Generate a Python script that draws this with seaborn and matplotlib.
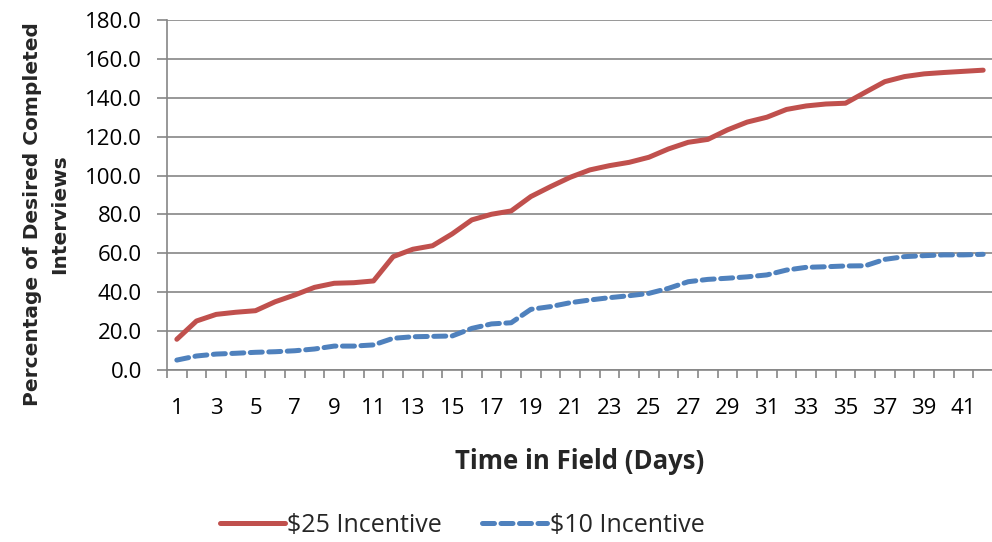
import numpy as np
import pandas as pd
import matplotlib
matplotlib.use('Agg')
import matplotlib.pyplot as plt
import matplotlib.ticker as ticker
import seaborn as sns

# values (percent of desired completes, by day)
days = list(range(1, 43))
inc_25 = [15.8, 25.2, 28.6, 29.7, 30.5, 35.1, 38.6, 42.5, 44.6, 44.9,
          45.8, 58.3, 62.1, 63.9, 70.0, 77.2, 80.1, 81.8, 89.2, 94.3,
          99.1, 102.9, 105.1, 106.8, 109.4, 113.7, 117.1, 118.6, 123.5, 127.5,
          130.0, 134.0, 135.8, 136.8, 137.2, 142.8, 148.3, 150.9, 152.3, 153.0,
          153.6, 154.2]
inc_10 = [5.1, 7.2, 8.2, 8.6, 9.1, 9.4, 9.9, 10.8, 12.3, 12.3,
          12.9, 16.3, 17.1, 17.3, 17.5, 21.4, 23.7, 24.3, 31.2, 32.6,
          34.6, 36.0, 37.2, 38.2, 39.4, 42.0, 45.4, 46.6, 47.2, 47.9,
          48.9, 51.4, 52.8, 53.1, 53.5, 53.6, 56.9, 58.3, 58.8, 59.2,
          59.2, 59.5]
series_names = ['$25 Incentive', '$10 Incentive']

df = pd.DataFrame({'day': days * 2,
                   'pct': inc_25 + inc_10,
                   'series': [series_names[0]] * len(days) + [series_names[1]] * len(days)})

sns.set_style('white')
plt.rcParams['font.family'] = ['Open Sans', 'DejaVu Sans']

fig, ax = plt.subplots(figsize=(9.92, 5.42), dpi=100)
fig.subplots_adjust(left=167 / 992, right=993 / 992, bottom=1 - 370 / 542, top=1 - 20 / 542)

g = sns.lineplot(data=df, x='day', y='pct', hue='series', style='series',
                 palette={series_names[0]: '#C0504D', series_names[1]: '#4F81BD'},
                 dashes={series_names[0]: '', series_names[1]: (2.4, 1.3)},
                 linewidth=3.6, ax=ax, legend=False)
for ln in ax.get_lines():
    ln.set_solid_capstyle('round')
    ln.set_dash_capstyle('round')

ax.set_xlim(0.5, 42.5)
ax.set_ylim(0, 180)
ax.xaxis.set_major_locator(ticker.FixedLocator(days[::2]))
ax.xaxis.set_minor_locator(ticker.FixedLocator(np.arange(0.5, 43, 1)))
ax.yaxis.set_major_locator(ticker.MultipleLocator(20))
ax.yaxis.set_major_formatter(ticker.FormatStrFormatter('%.1f'))

grey = '#868686'
ax.grid(axis='y', color=grey, linewidth=1.2)
ax.set_axisbelow(True)
for s in ['top', 'right']:
    ax.spines[s].set_visible(False)
for s in ['left', 'bottom']:
    ax.spines[s].set_color(grey)
    ax.spines[s].set_linewidth(1.2)

ax.tick_params(axis='x', which='major', length=0, pad=20, labelsize=16, colors='black')
ax.tick_params(axis='x', which='minor', length=6, width=1.2, color=grey, direction='out')
ax.tick_params(axis='y', which='major', length=7, width=1.2, color=grey, direction='out',
               pad=11, labelsize=16, labelcolor='black')
ax.tick_params(bottom=True, left=True, which='both')

ax.set_xlabel('Time in Field (Days)', fontsize=18.5, fontweight='bold')
ax.xaxis.set_label_coords(0.5, -0.223)
ax.set_ylabel('Percentage of Desired Completed\nInterviews', fontsize=14.5,
              fontweight='bold', family='DejaVu Sans', linespacing=1.6)
ax.yaxis.set_label_coords(-0.118, 0.446)

handles = [plt.Line2D([], [], color='#C0504D', lw=3.6, solid_capstyle='round'),
           plt.Line2D([], [], color='#4F81BD', lw=3.6, dashes=(2.4, 1.3), dash_capstyle='round')]
fig.legend(handles, series_names, loc='center', bbox_to_anchor=(462 / 992, 1 - 525 / 542),
           ncol=2, frameon=False, fontsize=18, handlelength=2.6, handletextpad=0.1,
           columnspacing=1.6)

fig.savefig('out.png', dpi=100)
